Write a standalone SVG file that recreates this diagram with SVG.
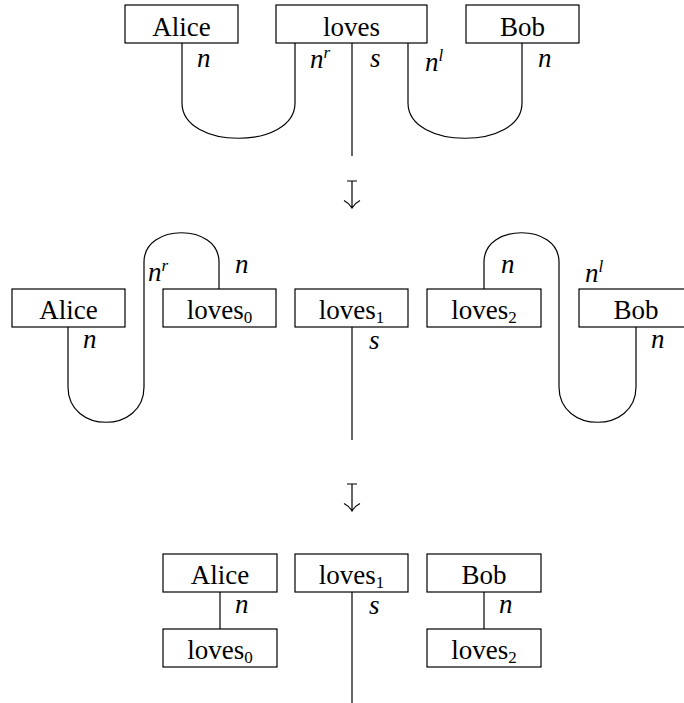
<svg xmlns="http://www.w3.org/2000/svg" width="684" height="703" viewBox="0 0 684 703">
<style>
.box{fill:#fff;stroke:#000;stroke-width:1.2}
.w{fill:none;stroke:#000;stroke-width:1.2}
text{font-family:"Liberation Serif","Times New Roman",serif;fill:#000}
.t{font-size:27px;text-anchor:middle}
.m{font-size:27px;font-style:italic}
.sub{font-size:17px;font-style:normal}
.sup{font-size:17px}
</style>
<rect width="684" height="703" fill="#fff"/>
<g id="connectors">
  <path class="w" d="M182,43 V103 C182,150 295,150 295,103 V43"/>
  <path class="w" d="M352,43 V156"/>
  <path class="w" d="M408,43 V103 C408,150 522,150 522,103 V43"/>
  <path class="w" d="M68,327 V387 C68,434 144,434 144,387 V262 C144,223 219,223 219,262 V289"/>
  <path class="w" d="M352,327 V440"/>
  <path class="w" d="M484,289 V262 C484,223 559,223 559,262 V387 C559,434 636,434 636,387 V327"/>
  <path class="w" d="M220,592 V629"/>
  <path class="w" d="M352,592 V703"/>
  <path class="w" d="M484,592 V629"/>
  <path class="w" d="M347,181 H357 M352,181 V208 M344,200.5 Q349,203 352,208 Q355,203 360,200.5"/>
  <path class="w" d="M347,484 H357 M352,484 V511 M344,503.5 Q349,506 352,511 Q355,506 360,503.5"/>
</g>
<g id="labels">
  <text class="m" x="197" y="67">n</text>
  <text class="m" x="310" y="68">n<tspan class="sup" dy="-10">r</tspan></text>
  <text class="m" x="370" y="67">s</text>
  <text class="m" x="425" y="71">n<tspan class="sup" dy="-10">l</tspan></text>
  <text class="m" x="538" y="67">n</text>

  <text class="m" x="83" y="348">n</text>
  <text class="m" x="148" y="281">n<tspan class="sup" dy="-10">r</tspan></text>
  <text class="m" x="235" y="273">n</text>
  <text class="m" x="369" y="349">s</text>
  <text class="m" x="501" y="273">n</text>
  <text class="m" x="585" y="282">n<tspan class="sup" dy="-10">l</tspan></text>
  <text class="m" x="651" y="348">n</text>

  <text class="m" x="235" y="613">n</text>
  <text class="m" x="369" y="614">s</text>
  <text class="m" x="499" y="613">n</text>
</g>
<g id="top-alice"><rect class="box" x="125" y="5" width="113" height="38"/><text class="t" x="181.5" y="36">Alice</text></g>
<g id="top-loves"><rect class="box" x="276" y="5" width="151" height="38"/><text class="t" x="351.5" y="36">loves</text></g>
<g id="top-bob"><rect class="box" x="466" y="5" width="113" height="38"/><text class="t" x="522.5" y="36">Bob</text></g>

<g id="mid-alice"><rect class="box" x="12" y="289" width="113" height="38"/><text class="t" x="68.5" y="319">Alice</text></g>
<g id="mid-loves0"><rect class="box" x="163" y="289" width="113" height="38"/><text class="t" x="219.5" y="319">loves<tspan class="sub" dy="4">0</tspan></text></g>
<g id="mid-loves1"><rect class="box" x="295" y="289" width="113" height="38"/><text class="t" x="351.5" y="319">loves<tspan class="sub" dy="4">1</tspan></text></g>
<g id="mid-loves2"><rect class="box" x="427" y="289" width="114" height="38"/><text class="t" x="484" y="319">loves<tspan class="sub" dy="4">2</tspan></text></g>
<g id="mid-bob"><rect class="box" x="579" y="289" width="114" height="38"/><text class="t" x="636" y="319">Bob</text></g>

<g id="bot-alice"><rect class="box" x="163" y="554" width="114" height="38"/><text class="t" x="220" y="584">Alice</text></g>
<g id="bot-loves1"><rect class="box" x="295" y="554" width="113" height="38"/><text class="t" x="351.5" y="584">loves<tspan class="sub" dy="4">1</tspan></text></g>
<g id="bot-bob"><rect class="box" x="427" y="554" width="114" height="38"/><text class="t" x="484" y="584">Bob</text></g>
<g id="bot-loves0"><rect class="box" x="163" y="629" width="114" height="38"/><text class="t" x="220" y="659">loves<tspan class="sub" dy="4">0</tspan></text></g>
<g id="bot-loves2"><rect class="box" x="427" y="629" width="114" height="38"/><text class="t" x="484" y="659">loves<tspan class="sub" dy="4">2</tspan></text></g>
</svg>
